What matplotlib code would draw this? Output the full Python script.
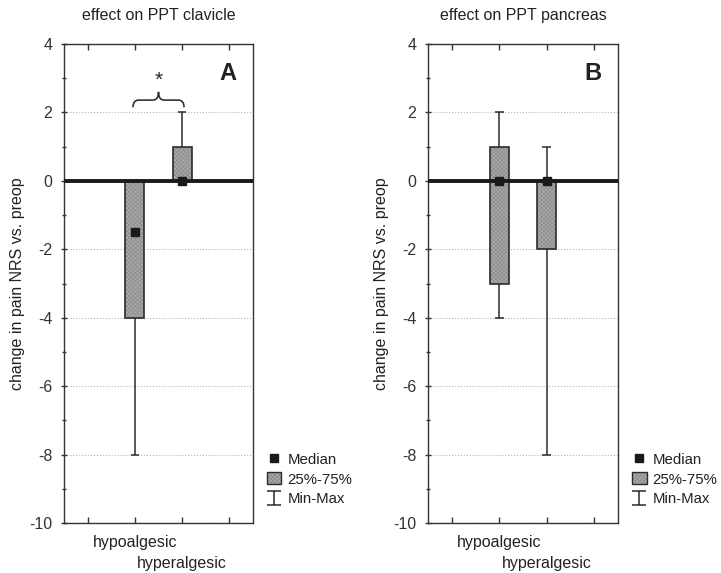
import numpy as np
import matplotlib.pyplot as plt
from matplotlib.patches import Patch, PathPatch
from matplotlib.lines import Line2D
from matplotlib.path import Path
from matplotlib.legend_handler import HandlerTuple

plt.rcParams['font.family'] = ['Liberation Sans', 'DejaVu Sans']
plt.rcParams['axes.unicode_minus'] = False
plt.rcParams['text.color'] = '#222222'
plt.rcParams['axes.labelcolor'] = '#222222'
plt.rcParams['xtick.color'] = '#333333'
plt.rcParams['ytick.color'] = '#333333'
plt.rcParams['hatch.linewidth'] = 0.5

groups = ['hypoalgesic', 'hyperalgesic']

# PPT clavicle
clav_median = [-1.5, 0]
clav_q1 = [-4, 0]
clav_q3 = [0, 1]
clav_min = [-8, 0]
clav_max = [0, 2]

# PPT pancreas
panc_median = [0, 0]
panc_q1 = [-3, -2]
panc_q3 = [1, 0]
panc_min = [-4, -8]
panc_max = [2, 1]

BOX_FACE = '#a8a8a8'
HATCH_COLOR = '#8c8c8c'
HATCH = 'xxxxxxxx'
DARK = '#2b2b2b'

IBEAM = Path([(-0.9, 1), (0.9, 1), (0, 1), (0, -1), (-0.9, -1), (0.9, -1)],
             [Path.MOVETO, Path.LINETO, Path.MOVETO, Path.LINETO,
              Path.MOVETO, Path.LINETO])


def draw_panel(ax, med, q1, q3, lo, hi, title, letter):
    pos = np.arange(len(groups)) + 1.5
    for i, x in enumerate(pos):
        # whiskers with caps
        if lo[i] < q1[i]:
            ax.vlines(x, lo[i], q1[i], color=DARK, lw=1.1, zorder=2)
            ax.hlines(lo[i], x - 0.09, x + 0.09, color=DARK, lw=1.1, zorder=2)
        if hi[i] > q3[i]:
            ax.vlines(x, q3[i], hi[i], color=DARK, lw=1.1, zorder=2)
            ax.hlines(hi[i], x - 0.09, x + 0.09, color=DARK, lw=1.1, zorder=2)
        # 25%-75% box: textured fill, then outline
        ax.bar(x, q3[i] - q1[i], bottom=q1[i], width=0.4, color=BOX_FACE,
               edgecolor=HATCH_COLOR, hatch=HATCH, lw=0, zorder=2)
        ax.bar(x, q3[i] - q1[i], bottom=q1[i], width=0.4, fill=False,
               edgecolor=DARK, lw=1.2, zorder=2.5)
    ax.axhline(0, color='#1a1a1a', lw=2.8, zorder=3)
    ax.plot(pos, med, 's', color='#1a1a1a', ms=5.5, zorder=4)

    ax.set_xlim(0, 4)
    ax.set_ylim(-10, 4)
    ax.set_yticks(np.arange(-10, 5, 2))
    ax.set_yticks(np.arange(-9, 4, 2), minor=True)
    ax.set_xticks([0.5, 1.5, 2.5, 3.5])
    ax.set_xticklabels([])
    ax.tick_params(axis='x', direction='in', top=True, length=4, width=1)
    ax.tick_params(axis='y', which='major', direction='inout', length=5,
                   width=1, labelsize=11.5, pad=6)
    ax.tick_params(axis='y', which='minor', direction='inout', length=3, width=1)
    ax.grid(axis='y', ls=':', color='#b5b5b5', lw=0.8, zorder=0)
    ax.set_axisbelow(True)
    for s in ax.spines.values():
        s.set_color('#333333')
        s.set_linewidth(1)

    # staggered category labels
    for i, g in enumerate(groups):
        ax.text(1.5 + i, -0.026 - 0.042 * i, g, transform=ax.get_xaxis_transform(),
                ha='center', va='top', fontsize=11.5)

    ax.set_ylabel('change in pain NRS vs. preop', fontsize=11.5, labelpad=3)
    ax.set_title(title, fontsize=11.5, pad=17)
    ax.text(3.47, 3.15, letter, fontsize=17, fontweight='bold',
            ha='center', va='center')

    handles = [
        Line2D([], [], marker='s', ls='none', color='#1a1a1a', ms=5.5),
        (Patch(facecolor=BOX_FACE, edgecolor=HATCH_COLOR, hatch=HATCH, lw=0),
         Patch(fill=False, edgecolor=DARK, lw=1)),
        Line2D([], [], ls='none', color=DARK, mew=1.1, ms=10.5, marker=IBEAM),
    ]
    ax.legend(handles, ['Median', '25%-75%', 'Min-Max'], loc='lower left',
              bbox_to_anchor=(1.075, 0.035), frameon=False, fontsize=10.8,
              handlelength=0.95, handleheight=0.85, handletextpad=0.4,
              labelspacing=0.36, borderaxespad=0, borderpad=0,
              handler_map={tuple: HandlerTuple(ndivide=1, pad=0)})


fig = plt.figure(figsize=(7.21, 5.73), dpi=100)
ax1 = fig.add_axes([64 / 721, 50 / 573, 189 / 721, 479 / 573])
ax2 = fig.add_axes([428 / 721, 50 / 573, 190 / 721, 479 / 573])

draw_panel(ax1, clav_median, clav_q1, clav_q3, clav_min, clav_max,
           'effect on PPT clavicle', 'A')
draw_panel(ax2, panc_median, panc_q1, panc_q3, panc_min, panc_max,
           'effect on PPT pancreas', 'B')

# significance brace between the clavicle groups
x0, x1, xm = 1.46, 2.54, 2.0
yb, yh, yt = 2.15, 2.36, 2.6
verts = [(x0, yb), (x0, yh), (x0 + 0.12, yh), (xm - 0.12, yh), (xm, yh), (xm, yt),
         (xm, yh), (xm + 0.12, yh), (x1 - 0.12, yh), (x1, yh), (x1, yb)]
codes = [Path.MOVETO, Path.CURVE3, Path.CURVE3, Path.LINETO, Path.CURVE3, Path.CURVE3,
         Path.CURVE3, Path.CURVE3, Path.LINETO, Path.CURVE3, Path.CURVE3]
ax1.add_patch(PathPatch(Path(verts, codes), fill=False, color='#333333', lw=1.2))
ax1.text(xm, 2.95, '*', ha='center', va='center', fontsize=15)

fig.savefig('out.png', dpi=100)
